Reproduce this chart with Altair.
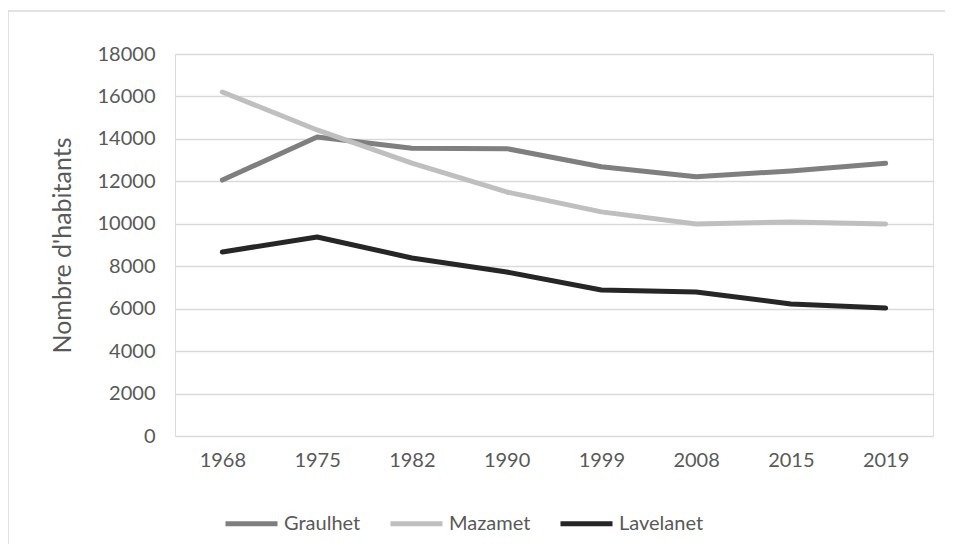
import altair as alt
import pandas as pd

years = ["1968", "1975", "1982", "1990", "1999", "2008", "2015", "2019"]
graulhet = [12060, 14090, 13560, 13540, 12690, 12220, 12490, 12850]
mazamet = [16210, 14420, 12860, 11500, 10560, 9990, 10085, 9990]
lavelanet = [8670, 9380, 8390, 7730, 6880, 6785, 6220, 6030]
series = ["Graulhet", "Mazamet", "Lavelanet"]
colors = ["#7f7f7f", "#bfbfbf", "#262626"]

rows = []
for name, vals in zip(series, [graulhet, mazamet, lavelanet]):
    for y, v in zip(years, vals):
        rows.append({"Année": y, "Commune": name, "Habitants": v})
df = pd.DataFrame(rows)

FONT = "Lato"
TXT = "#595959"

lines = alt.Chart(df).mark_line(strokeWidth=5, strokeCap="round", strokeJoin="round").encode(
    x=alt.X("Année:N", sort=years, scale=alt.Scale(paddingInner=1, paddingOuter=0.5, padding=0.5),
            axis=alt.Axis(title=None, labelAngle=0, domain=False, ticks=False, grid=False,
                          labelFont=FONT, labelFontSize=20, labelColor=TXT, labelPadding=14)),
    y=alt.Y("Habitants:Q", scale=alt.Scale(domain=[0, 18000], nice=False),
            axis=alt.Axis(title="Nombre d'habitants", values=list(range(0, 18001, 2000)), format="d",
                          domain=False, ticks=False, gridColor="#d9d9d9", gridWidth=1.5,
                          labelFont=FONT, labelFontSize=20, labelColor=TXT, labelPadding=20,
                          titleFont=FONT, titleFontSize=25, titleFontWeight="normal",
                          titleColor=TXT, titlePadding=22)),
    color=alt.Color("Commune:N", sort=series,
                    scale=alt.Scale(domain=series, range=colors),
                    legend=alt.Legend(title=None, orient="none", direction="horizontal",
                                      legendX=48, legendY=441,
                                      symbolType="stroke", symbolSize=2704, symbolStrokeWidth=5,
                                      labelFont=FONT, labelFontSize=20, labelColor=TXT,
                                      labelOffset=4, columnPadding=19)),
)

one = alt.Data(values=[{"a": 1}])
border_top = alt.Chart(one).mark_rule(stroke="#d9d9d9", strokeWidth=1.5).encode(
    x=alt.value(-167), x2=alt.value(770), y=alt.value(-43)
)
border_left = alt.Chart(one).mark_rule(stroke="#d9d9d9", strokeWidth=1.5).encode(
    x=alt.value(-167), y=alt.value(-43), y2=alt.value(490)
)

chart = alt.layer(border_top, border_left, lines).properties(
    width=758, height=382,
    autosize=alt.AutoSizeParams(type="none"),
    padding={"left": 167, "top": 46, "right": 12, "bottom": 108},
).configure_view(strokeWidth=0).configure(background="white")

chart.save("out.html", embed_options={"renderer": "svg", "actions": False})
